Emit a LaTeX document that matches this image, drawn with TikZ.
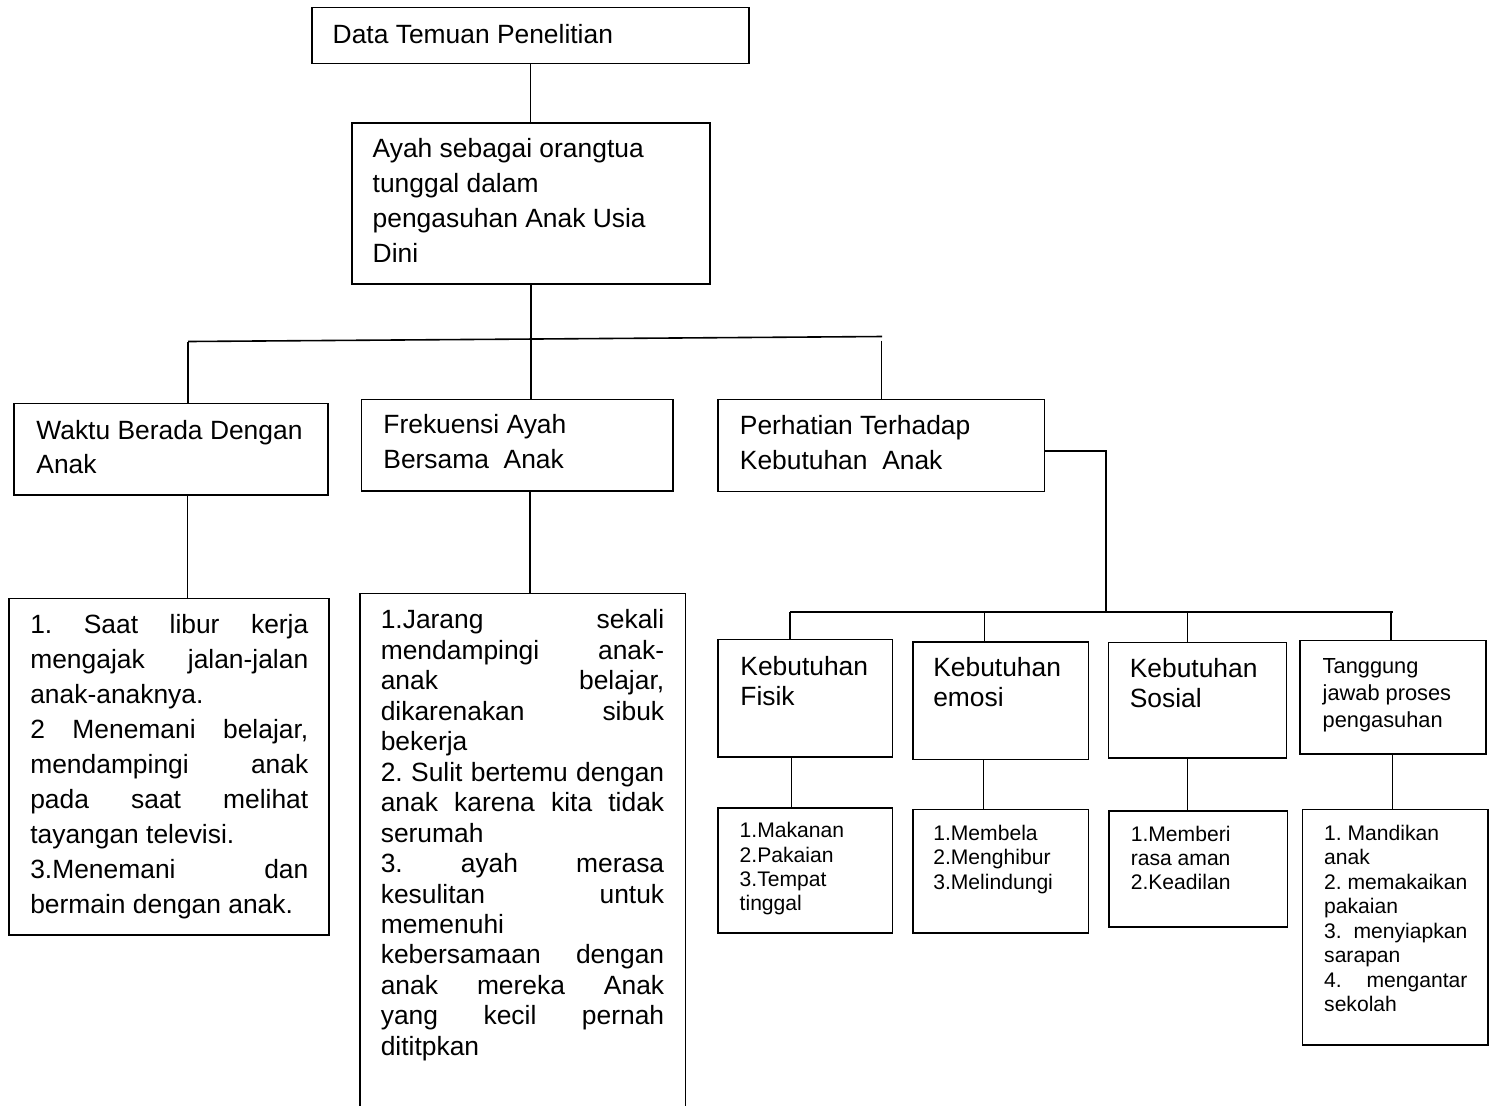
\documentclass[tikz,border=0pt]{standalone}
\usepackage{fontspec}
\setmainfont{Liberation Sans}
\usetikzlibrary{fit}
\setlength{\parindent}{0pt}
\frenchspacing
\newcommand\ns{\spaceskip=0pt\xspaceskip=0pt\relax}
\newcommand\jl[2]{\makebox[#1][s]{\ns #2}}
\begin{document}
\begin{tikzpicture}[x=0.5pt,y=-0.5pt,
  box/.style={draw, line width=0.8pt, inner sep=0pt, outer sep=0pt},
  con/.style={line width=0.8pt},
  txt/.style={anchor=north west, inner sep=0pt, align=left},
  fbig/.style={font=\fontsize{13.2}{#1}\selectfont},
  fmid/.style={font=\fontsize{10.9}{#1}\selectfont},
  fsmall/.style={font=\fontsize{10.55}{#1}\selectfont}]
\useasboundingbox[fill=white] (0,0) rectangle (1494,1105);

% level 1
\node[box, fit={(311.7,7.3) (749,63.3)}] (b1) {};
\node[txt, anchor=base west, fbig=17.5] (t1) at (332.3,43.3) {\ns Data Temuan Penelitian};

\node[box, fit={(351.7,123) (710,284)}] (b2) {};
\node[txt, fbig=17.5, text width=175pt] (t2) at (372.3,132.8)
  {\ns\strut Ayah sebagai orangtua\\tunggal dalam\\pengasuhan Anak Usia\\Dini};

% level 2
\node[box, fit={(13.8,403.3) (328,495)}] (waktu) {};
\node[txt, fbig=17.2, text width=150pt] (tw) at (36,414.9)
  {\ns\strut Waktu Berada Dengan\\Anak};

\node[box, fit={(361.6,399.3) (672.8,490.7)}] (frek) {};
\node[txt, fbig=17.2, text width=145pt] (tf) at (383,409.2)
  {\ns\strut Frekuensi Ayah\\Bersama\ \ Anak};

\node[box, fit={(718.2,399.3) (1044.3,491.3)}] (perh) {};
\node[txt, fbig=17.5, text width=150pt] (tp) at (739.5,409.8)
  {\ns\strut Perhatian Terhadap\\Kebutuhan\ \ Anak};

% level 3 (left)
\node[box, fit={(8.9,598.3) (329,935)}] (waktuI) {};
\node[txt, fbig=17.5, text width=139pt] (twi) at (29.9,608.8)
  {\ns\strut\jl{139pt}{1. Saat libur kerja}\\
   \jl{139pt}{mengajak jalan-jalan}\\
   anak-anaknya.\\
   \jl{139pt}{2 Menemani belajar,}\\
   \jl{139pt}{mendampingi anak}\\
   \jl{139pt}{pada saat melihat}\\
   tayangan televisi.\\
   \jl{139pt}{3.Menemani dan}\\
   bermain dengan anak.};

\node[fit={(359.8,593.3) (685.3,1108)}, inner sep=0pt, outer sep=0pt] (frekI) {};
\draw[con] (frekI.south west) -- (frekI.north west) -- (frekI.north east) -- (frekI.south east);
\node[txt, fbig=15.24, text width=141.7pt] (tfi) at (380.4,606.95)
  {\ns\strut\jl{141.7pt}{1.Jarang sekali}\\
   \jl{141.7pt}{mendampingi anak-}\\
   \jl{141.7pt}{anak belajar,}\\
   \jl{141.7pt}{dikarenakan sibuk}\\
   bekerja\\
   \jl{141.7pt}{2. Sulit bertemu dengan}\\
   \jl{141.7pt}{anak karena kita tidak}\\
   serumah\\
   \jl{141.7pt}{3. ayah merasa}\\
   \jl{141.7pt}{kesulitan untuk}\\
   memenuhi\\
   \jl{141.7pt}{kebersamaan dengan}\\
   \jl{141.7pt}{anak mereka Anak}\\
   \jl{141.7pt}{yang kecil pernah}\\
   dititpkan};

% level 3 (right)
\node[box, fit={(718.2,639.3) (892.4,756.7)}] (fisik) {};
\node[txt, fbig=15, text width=80pt] (tfs) at (740,654) {\ns\strut Kebutuhan\\Fisik};

\node[box, fit={(912.7,641.7) (1088.4,759.3)}] (emosi) {};
\node[txt, fbig=15, text width=80pt] (tem) at (932.9,655) {\ns\strut Kebutuhan\\emosi};

\node[box, fit={(1108.6,642.3) (1286.3,757.7)}] (sosial) {};
\node[txt, fbig=15, text width=80pt] (tso) at (1129.4,656.3) {\ns\strut Kebutuhan\\Sosial};

\node[box, fit={(1300,640.3) (1485.8,754)}] (tangg) {};
\node[txt, fmid=13.5, text width=82pt] (tta) at (1322.3,653.8) {\ns\strut Tanggung\\jawab proses\\pengasuhan};

% level 4 (right)
\node[box, fit={(718.2,807.7) (892.4,932.7)}] (fisikI) {};
\node[txt, fsmall=12.2, text width=75pt] (tfsi) at (739.3,820.2)
  {\ns\strut 1.Makanan\\2.Pakaian\\3.Tempat\\tinggal};

\node[box, fit={(912.7,809.3) (1088.4,932.7)}] (emosiI) {};
\node[txt, fsmall=12.2, text width=75pt] (temi) at (932.9,822.9)
  {\ns\strut 1.Membela\\2.Menghibur\\3.Melindungi};

\node[box, fit={(1109.1,810.7) (1287.3,926.7)}] (sosialI) {};
\node[txt, fsmall=12.2, text width=75pt] (tsoi) at (1130.4,823.6)
  {\ns\strut 1.Memberi\\rasa aman\\2.Keadilan};

\node[box, fit={(1302.5,809.3) (1487.8,1045)}] (tanggI) {};
\node[txt, fsmall=12.25, text width=78pt] (ttai) at (1323.8,822.85)
  {\ns\strut 1. Mandikan\\anak\\2. memakaikan\\pakaian\\
   \jl{71.6pt}{3. menyiapkan}\\sarapan\\
   \jl{71.6pt}{4. mengantar}\\sekolah};

% connectors
\draw[con] (b1.south) -- (b1.south |- b2.north);
\coordinate (barL) at (188,341.5);
\coordinate (barR) at (882,336.5);
\coordinate (barRv) at (881.3,340.7);
\draw[con] (barL) -- (barR);
\draw[con] (b2.south) -- (b2.south |- frek.north);
\draw[con] (barL) -- (barL |- waktu.north);
\draw[con] (barRv) -- (barRv |- perh.north);

\coordinate (wx) at (187.5,0);
\coordinate (fx) at (530,0);
\draw[con] (wx |- waktu.south) -- (wx |- waktuI.north);
\draw[con] (fx |- frek.south) -- (fx |- frekI.north);

\coordinate (pc) at (1106,450.7);
\coordinate (pb) at (1106,612);
\draw[con] (perh.east |- pc) -- (pc) -- (pb);

\coordinate (k1) at (790,612);
\coordinate (k2) at (984.6,612);
\coordinate (k3) at (1187.6,612);
\coordinate (k4) at (1391,612);
\coordinate (kR) at (1392.6,612);
\draw[con] (k1) -- (kR);
\draw[con] (k1) -- (k1 |- fisik.north);
\draw[con] (k2) -- (k2 |- emosi.north);
\draw[con] (k3) -- (k3 |- sosial.north);
\draw[con] (k4) -- (k4 |- tangg.north);

\coordinate (d1) at (791.6,0);
\coordinate (d2) at (983.5,0);
\coordinate (d3) at (1187.6,0);
\coordinate (d4) at (1392.6,0);
\draw[con] (d1 |- fisik.south) -- (d1 |- fisikI.north);
\draw[con] (d2 |- emosi.south) -- (d2 |- emosiI.north);
\draw[con] (d3 |- sosial.south) -- (d3 |- sosialI.north);
\draw[con] (d4 |- tangg.south) -- (d4 |- tanggI.north);
\end{tikzpicture}
\end{document}
